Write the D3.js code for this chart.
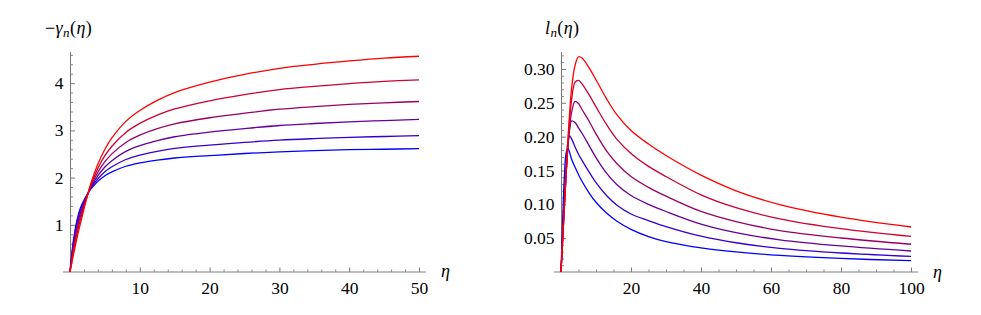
<!DOCTYPE html>
<meta charset="utf-8">
<script src="https://cdn.jsdelivr.net/npm/d3@7"></script>
<style>
  body { margin: 0; background: #fff; }
  svg text { font-family: "Liberation Serif", "DejaVu Serif", serif; }
</style>
<div id="chart"></div>
<script>

// left panel: -gamma_n(eta), n = 1 (blue) ... 6 (red)
const etaLeft = [0, 0.5, 1, 1.5, 2, 2.5, 3, 4, 5, 6, 8, 10, 12.5, 15, 20, 25, 30, 35, 40, 45, 50];
const gamma1 = [0, 0.68, 1.10, 1.36, 1.52, 1.65, 1.76, 1.92, 2.04, 2.12, 2.24, 2.31, 2.37, 2.415, 2.465, 2.51, 2.545, 2.57, 2.59, 2.60, 2.615];
const gamma2 = [0, 0.634, 1.043, 1.311, 1.492, 1.646, 1.778, 1.976, 2.124, 2.228, 2.383, 2.477, 2.557, 2.617, 2.687, 2.745, 2.793, 2.826, 2.853, 2.870, 2.889];
const gamma3 = [0, 0.578, 0.975, 1.251, 1.457, 1.640, 1.800, 2.042, 2.225, 2.358, 2.554, 2.676, 2.785, 2.865, 2.963, 3.038, 3.103, 3.146, 3.182, 3.208, 3.231];
const gamma4 = [0, 0.516, 0.899, 1.185, 1.419, 1.634, 1.824, 2.116, 2.337, 2.502, 2.744, 2.898, 3.037, 3.139, 3.267, 3.364, 3.448, 3.503, 3.549, 3.584, 3.612];
const gamma5 = [0, 0.446, 0.813, 1.111, 1.377, 1.627, 1.851, 2.199, 2.463, 2.664, 2.957, 3.148, 3.323, 3.454, 3.627, 3.758, 3.864, 3.933, 3.991, 4.038, 4.071];
const gamma6 = [0, 0.37, 0.72, 1.03, 1.33, 1.62, 1.88, 2.29, 2.60, 2.84, 3.19, 3.42, 3.635, 3.80, 4.02, 4.185, 4.315, 4.40, 4.47, 4.53, 4.57];

// right panel: l_n(eta)
const etaRight = [0, 0.5, 1, 1.5, 2, 2.5, 3, 4, 5, 6, 8, 10, 13, 16, 20, 25, 30, 40, 50, 62.5, 80, 100];
const l1 = [0, 0.080, 0.145, 0.177, 0.183, 0.176, 0.167, 0.155, 0.144, 0.134, 0.117, 0.103, 0.087, 0.075, 0.063, 0.0523, 0.0449, 0.0356, 0.0296, 0.0245, 0.0200, 0.0167];
const l2 = [0, 0.057, 0.112, 0.160, 0.193, 0.201, 0.197, 0.185, 0.174, 0.165, 0.148, 0.132, 0.113, 0.0986, 0.0857, 0.076, 0.0671, 0.0529, 0.0432, 0.0350, 0.0281, 0.0230];
const l3 = [0, 0.052, 0.103, 0.150, 0.188, 0.212, 0.223, 0.221, 0.213, 0.205, 0.187, 0.169, 0.146, 0.129, 0.113, 0.100, 0.0894, 0.0708, 0.0582, 0.0476, 0.0385, 0.0310];
const l4 = [0, 0.051, 0.101, 0.147, 0.186, 0.215, 0.235, 0.252, 0.249, 0.240, 0.223, 0.204, 0.179, 0.160, 0.141, 0.125, 0.112, 0.0894, 0.0744, 0.0612, 0.0502, 0.0410];
const l5 = [0, 0.050, 0.100, 0.148, 0.192, 0.228, 0.253, 0.280, 0.283, 0.278, 0.262, 0.244, 0.218, 0.196, 0.175, 0.156, 0.141, 0.114, 0.095, 0.0785, 0.0640, 0.0525];
const l6 = [0, 0.050, 0.100, 0.150, 0.198, 0.238, 0.270, 0.305, 0.318, 0.316, 0.302, 0.284, 0.256, 0.232, 0.209, 0.189, 0.172, 0.143, 0.120, 0.0995, 0.0810, 0.0665];

const leftXTicks = [10, 20, 30, 40, 50];
const leftYTicks = [1, 2, 3, 4];
const rightXTicks = [20, 40, 60, 80, 100];
const rightYTicks = [0.05, 0.10, 0.15, 0.20, 0.25, 0.30];

// blue -> red blend
const colors = d3.range(6).map(i => d3.rgb(255 * i / 5, 0, 255 * (1 - i / 5)).toString());

const width = 981;
const height = 315;
const serif = '"Liberation Serif", "DejaVu Serif", serif';

const svg = d3.select("#chart")
    .append("svg")
    .attr("width", width)
    .attr("height", height)
    .attr("viewBox", [0, 0, width, height])
    .attr("font-family", serif);

function panel(opts) {
    const x = d3.scaleLinear().domain(opts.xDomain).range(opts.xRange);
    const y = d3.scaleLinear().domain(opts.yDomain).range(opts.yRange);
    const g = svg.append("g");

    // axis lines (extend a little past the origin like Mathematica)
    g.append("line")
        .attr("x1", opts.xRange[0] - 7).attr("x2", opts.xRange[1] + 7)
        .attr("y1", y(0)).attr("y2", y(0))
        .attr("stroke", "#aaa").attr("stroke-width", 1.4);
    g.append("line")
        .attr("x1", x(0) + 0.5).attr("x2", x(0) + 0.5)
        .attr("y1", y(0)).attr("y2", opts.yRange[1])
        .attr("stroke", "#777").attr("stroke-width", 1);

    // minor ticks
    g.append("g")
        .attr("transform", `translate(0,${y(0)})`)
        .call(d3.axisBottom(x).tickValues(opts.xMinor).tickSize(-2.5).tickFormat(""))
        .call(a => a.select(".domain").remove())
        .call(a => a.selectAll("line").attr("stroke", "#888"));
    g.append("g")
        .attr("transform", `translate(${x(0) + 0.5},0)`)
        .call(d3.axisLeft(y).tickValues(opts.yMinor).tickSize(-2.5).tickFormat(""))
        .call(a => a.select(".domain").remove())
        .call(a => a.selectAll("line").attr("stroke", "#888"));

    // major ticks + labels
    g.append("g")
        .attr("transform", `translate(0,${y(0)})`)
        .call(d3.axisBottom(x).tickValues(opts.xTicks).tickSize(-4.5).tickPadding(9.6).tickFormat(opts.xFormat))
        .call(a => a.select(".domain").remove())
        .call(a => a.selectAll("line").attr("stroke", "#777"))
        .call(a => a.selectAll("text").attr("font-size", 17.5).attr("fill", "#000").attr("font-family", serif));
    g.append("g")
        .attr("transform", `translate(${x(0) + 0.5},0)`)
        .call(d3.axisLeft(y).tickValues(opts.yTicks).tickSize(-4.5).tickPadding(7).tickFormat(opts.yFormat))
        .call(a => a.select(".domain").remove())
        .call(a => a.selectAll("line").attr("stroke", "#777"))
        .call(a => a.selectAll("text").attr("font-size", 17.5).attr("fill", "#000").attr("font-family", serif));

    // curves
    const line = d3.line()
        .curve(d3.curveCatmullRom.alpha(0.5))
        .x((d, i) => x(opts.eta[i]))
        .y(d => y(d));
    g.append("g")
        .attr("fill", "none")
        .attr("stroke-width", 1.3)
        .selectAll("path")
        .data(opts.series)
        .join("path")
        .attr("stroke", (d, i) => colors[i])
        .attr("d", line);

    // x axis label
    g.append("text")
        .attr("x", opts.etaLabel[0]).attr("y", opts.etaLabel[1])
        .attr("font-size", 18).attr("font-style", "italic")
        .text("η");

    return g;
}

panel({
    eta: etaLeft,
    series: [gamma1, gamma2, gamma3, gamma4, gamma5, gamma6],
    xDomain: [0, 50], xRange: [70, 419],
    yDomain: [0, 4.66], yRange: [272, 52],
    xTicks: leftXTicks, yTicks: leftYTicks,
    xMinor: d3.range(2, 51, 2).filter(v => v % 10 !== 0),
    yMinor: d3.range(0.2, 4.61, 0.2).filter(v => Math.abs(v - Math.round(v)) > 1e-6),
    xFormat: d3.format("d"), yFormat: d3.format("d"),
    etaLabel: [441, 277]
});

panel({
    eta: etaRight,
    series: [l1, l2, l3, l4, l5, l6],
    xDomain: [0, 100], xRange: [561, 911],
    yDomain: [0, 0.325], yRange: [272, 52],
    xTicks: rightXTicks, yTicks: rightYTicks,
    xMinor: d3.range(5, 101, 5).filter(v => v % 20 !== 0),
    yMinor: d3.range(0.01, 0.321, 0.01).filter(v => Math.abs(v * 20 - Math.round(v * 20)) > 1e-6),
    xFormat: d3.format("d"), yFormat: d3.format(".2f"),
    etaLabel: [933, 278]
});

// axis titles
const tl = svg.append("text").attr("x", 45).attr("y", 34).attr("font-size", 18).attr("letter-spacing", 0.4);
tl.append("tspan").text("−");
tl.append("tspan").attr("font-style", "italic").text("γ");
tl.append("tspan").attr("font-style", "italic").attr("font-size", 13).attr("dy", 3).text("n");
tl.append("tspan").attr("dy", -3).text("(");
tl.append("tspan").attr("font-style", "italic").text("η");
tl.append("tspan").text(")");

const tr = svg.append("text").attr("x", 545).attr("y", 34).attr("font-size", 18).attr("letter-spacing", 0.4);
tr.append("tspan").attr("font-style", "italic").text("l");
tr.append("tspan").attr("font-style", "italic").attr("font-size", 13).attr("dy", 3).text("n");
tr.append("tspan").attr("dy", -3).text("(");
tr.append("tspan").attr("font-style", "italic").text("η");
tr.append("tspan").text(")");

</script>
